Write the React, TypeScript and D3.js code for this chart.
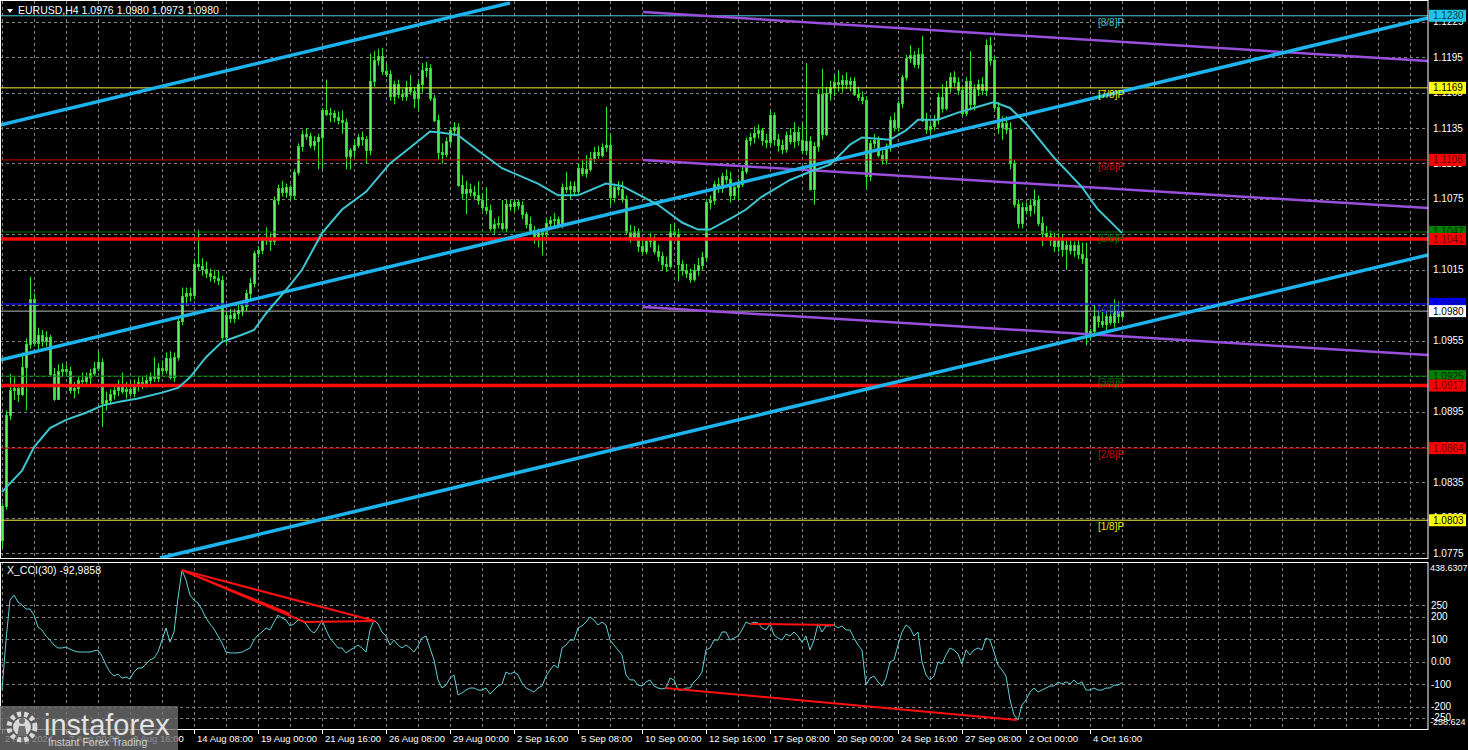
import React from 'react';
import * as d3 from 'd3';

// ---------- DATA (prices stored as 1/10000 above 1.0000, e.g. 980 = 1.0980) ----------
const OPEN_PIPS = [786,815,892,913,915,910,933,952,990,953,960,955,958,927,906,929,931,929,913,915,922,921,924,928,932,937,902,905,910,913,917,912,914,911,918,920,919,922,925,923,932,930,940,924,941,972,993,995,994,1020,1018,1016,1012,1010,1008,1006,958,977,974,978,981,984,995,1004,1029,1032,1040,1042,1039,1074,1084,1081,1085,1078,1098,1120,1130,1128,1121,1124,1127,1150,1147,1148,1144,1142,1140,1111,1116,1121,1127,1126,1116,1175,1193,1196,1183,1181,1162,1172,1164,1162,1170,1166,1160,1172,1184,1186,1160,1142,1115,1113,1124,1133,1136,1087,1080,1083,1081,1078,1074,1068,1066,1050,1054,1055,1050,1071,1069,1072,1070,1062,1054,1049,1044,1048,1045,1055,1057,1058,1053,1085,1083,1086,1082,1101,1097,1100,1110,1115,1112,1119,1121,1077,1085,1083,1075,1047,1043,1048,1035,1031,1039,1041,1031,1027,1020,1018,1048,1045,1020,1015,1012,1007,1015,1019,1026,1072,1074,1088,1084,1094,1092,1078,1085,1088,1099,1125,1127,1131,1133,1125,1123,1146,1126,1121,1117,1129,1124,1132,1125,1116,1124,1083,1120,1164,1130,1165,1170,1174,1172,1176,1172,1175,1164,1161,1159,1094,1122,1125,1112,1108,1119,1142,1136,1156,1178,1194,1197,1189,1198,1142,1134,1137,1143,1161,1152,1170,1178,1174,1167,1148,1175,1155,1168,1172,1167,1205,1193,1153,1136,1139,1134,1105,1071,1055,1068,1066,1070,1074,1055,1046,1044,1040,1035,1041,1033,1036,1032,1036,1028,1025,961,963,976,972,969,976,971,980,976];
const HIGH_PIPS = [818,896,927,924,918,945,957,1009,995,966,964,963,960,932,935,936,935,933,920,925,928,928,931,937,946,940,912,914,916,922,928,920,920,922,924,925,926,928,941,936,938,945,946,945,975,1000,1000,1000,1024,1049,1025,1022,1016,1015,1014,1010,980,982,982,986,988,998,1008,1031,1035,1043,1051,1046,1077,1087,1090,1088,1087,1100,1122,1133,1135,1131,1128,1130,1152,1176,1152,1150,1149,1150,1143,1118,1125,1130,1132,1128,1198,1200,1202,1203,1190,1184,1175,1176,1168,1175,1180,1170,1175,1190,1191,1189,1163,1146,1122,1127,1136,1140,1139,1095,1090,1088,1086,1090,1080,1085,1070,1058,1060,1074,1075,1074,1075,1074,1073,1064,1060,1052,1050,1050,1058,1060,1063,1060,1088,1098,1090,1090,1105,1108,1112,1115,1119,1120,1122,1153,1130,1088,1090,1090,1078,1053,1052,1050,1042,1042,1046,1044,1036,1030,1026,1054,1055,1050,1023,1020,1016,1020,1025,1030,1075,1078,1090,1093,1097,1100,1098,1088,1092,1102,1127,1131,1136,1138,1135,1130,1150,1148,1130,1125,1132,1135,1140,1136,1139,1190,1128,1123,1168,1185,1170,1175,1180,1184,1180,1182,1178,1178,1170,1166,1162,1125,1130,1128,1116,1122,1145,1148,1158,1180,1197,1205,1200,1203,1213,1148,1140,1146,1165,1172,1175,1182,1183,1178,1170,1178,1200,1172,1176,1178,1210,1212,1196,1157,1145,1145,1140,1108,1075,1072,1072,1075,1083,1078,1060,1052,1048,1046,1046,1045,1042,1040,1039,1040,1038,1038,965,985,980,982,980,985,990,988,980];
const LOW_PIPS = [780,812,888,905,903,908,896,948,950,948,950,950,925,904,905,925,926,910,906,910,916,917,918,925,929,882,896,901,905,908,910,906,908,907,912,914,915,918,920,920,926,927,922,920,938,968,985,988,990,1015,1010,1008,1005,1004,1002,955,951,970,970,973,976,980,990,1000,1025,1028,1036,1031,1036,1070,1077,1076,1074,1075,1095,1115,1125,1118,1116,1100,1100,1145,1140,1140,1138,1130,1100,1100,1110,1118,1120,1105,1112,1170,1188,1180,1178,1158,1155,1160,1158,1158,1163,1152,1150,1165,1178,1158,1140,1108,1105,1110,1120,1128,1085,1075,1062,1077,1075,1070,1065,1062,1048,1045,1050,1048,1047,1065,1064,1066,1058,1050,1045,1037,1034,1027,1040,1050,1052,1050,1050,1080,1075,1078,1078,1094,1093,1098,1106,1109,1110,1115,1070,1072,1078,1072,1045,1038,1040,1030,1028,1028,1034,1028,1022,1015,1013,1016,1040,1005,1010,1008,1004,1005,1010,1015,1022,1066,1070,1080,1080,1088,1072,1074,1074,1085,1096,1120,1122,1126,1120,1118,1120,1120,1115,1113,1114,1121,1118,1120,1113,1112,1082,1070,1115,1125,1128,1158,1162,1166,1165,1168,1166,1162,1158,1155,1083,1090,1118,1110,1104,1104,1115,1132,1132,1152,1175,1190,1186,1185,1140,1130,1130,1133,1138,1148,1150,1165,1170,1163,1145,1145,1150,1150,1162,1163,1162,1188,1150,1130,1125,1130,1100,1068,1050,1050,1062,1060,1062,1052,1035,1040,1035,1030,1030,1026,1015,1028,1026,1024,1020,951,955,958,966,966,963,968,966,970,973];
const CLOSE_PIPS = [815,892,913,915,910,933,952,990,953,960,955,958,927,906,929,931,929,913,915,922,921,924,928,932,937,902,905,910,913,917,912,914,911,918,920,919,922,925,923,932,930,940,924,941,972,993,995,994,1020,1018,1016,1012,1010,1008,1006,958,977,974,978,981,984,995,1004,1029,1032,1040,1042,1039,1074,1084,1081,1085,1078,1098,1120,1130,1128,1121,1124,1127,1150,1147,1148,1144,1142,1140,1111,1116,1121,1127,1126,1116,1175,1193,1196,1183,1181,1162,1172,1164,1162,1170,1166,1160,1172,1184,1186,1160,1142,1115,1113,1124,1133,1136,1087,1080,1083,1081,1078,1074,1068,1066,1050,1054,1055,1050,1071,1069,1072,1070,1062,1054,1049,1044,1048,1045,1055,1057,1058,1053,1085,1083,1086,1082,1101,1097,1100,1110,1115,1112,1119,1121,1077,1085,1083,1075,1047,1043,1048,1035,1031,1039,1041,1031,1027,1020,1018,1048,1045,1020,1015,1012,1007,1015,1019,1026,1072,1074,1088,1084,1094,1092,1078,1085,1088,1099,1125,1127,1131,1133,1125,1123,1146,1126,1121,1117,1129,1124,1132,1125,1116,1124,1083,1120,1164,1130,1165,1170,1174,1172,1176,1172,1175,1164,1161,1159,1094,1122,1125,1112,1108,1119,1142,1136,1156,1178,1194,1197,1189,1198,1142,1134,1137,1143,1161,1152,1170,1178,1174,1167,1148,1175,1155,1168,1172,1167,1205,1193,1153,1136,1139,1134,1105,1071,1055,1068,1066,1070,1074,1055,1046,1044,1040,1035,1041,1033,1036,1032,1036,1028,1025,961,963,976,972,969,976,971,980,976,980];

// moving average, read at sampled bars
const MA_BARS = [0,5,8,12,16,21,25,29,34,40,44,47,51,55,60,63,66,70,72,75,80,85,91,97,103,107,110,114,119,125,134,139,144,151,155,164,170,174,177,183,186,190,197,202,207,210,212,215,222,226,229,234,239,244,248,252,256,263,270,274,280];
const MA_PIPS = [827,845,865,881,888,894,900,903,906,911,915,924,941,954,960,964,978,994,1002,1015,1046,1066,1081,1105,1121,1132,1131,1129,1116,1101,1088,1078,1078,1088,1086,1070,1055,1049,1049,1060,1066,1077,1091,1098,1104,1114,1121,1127,1125,1133,1142,1142,1148,1153,1157,1152,1139,1110,1085,1066,1046];

// CCI(30) per bar
const CCI_VALUES = [-126,96,274,296,265,252,234,234,207,154,141,114,96,74,61,61,65,56,48,43,43,43,43,48,52,25,-15,-46,-64,-55,-73,-68,-77,-46,-28,-28,-10,8,16,43,96,150,87,132,283,407,363,296,274,261,230,194,168,145,114,83,43,39,39,39,43,52,61,96,119,132,150,141,176,207,194,185,159,168,185,181,168,141,127,150,185,141,105,83,61,61,39,52,61,74,61,43,141,185,168,132,114,74,96,74,61,74,61,43,70,105,114,61,8,-81,-117,-104,-73,-59,-148,-139,-126,-117,-117,-126,-126,-117,-144,-126,-108,-99,-46,-55,-46,-59,-95,-117,-126,-135,-117,-108,-64,-37,-15,-28,61,74,96,96,150,159,176,199,185,163,176,163,96,74,52,30,-59,-81,-81,-104,-108,-90,-81,-108,-117,-121,-117,-73,-81,-126,-126,-117,-117,-90,-73,-46,52,61,96,96,132,132,96,105,114,141,176,168,176,172,150,141,168,119,105,96,123,114,132,114,87,114,52,96,168,132,159,159,163,150,159,141,141,105,74,52,-104,-73,-64,-90,-108,-73,-1,8,74,132,163,150,114,132,-1,-59,-81,-64,-1,-10,30,61,52,34,-10,52,30,52,61,52,105,96,43,-15,-37,-64,-170,-237,-258.624,-192,-170,-135,-117,-135,-126,-117,-108,-108,-90,-99,-90,-99,-81,-99,-90,-126,-126,-117,-126,-126,-117,-117,-104,-104,-92.9858];

// axis ticks
const PRICE_GRID = [1.1225,1.1195,1.1165,1.1135,1.1105,1.1075,1.1045,1.1015,1.0985,1.0955,1.0925,1.0895,1.0865,1.0835,1.0805,1.0775];
const CCI_GRID = [250,200,100,0,-100,-200,-250];
const CCI_MAX = 438.6307;
const CCI_MIN = -258.624;
const TIME_TICK_BARS = [0,16,32,48,64,80,96,112,128,144,160,176,192,208,224,240,256,272];
const TIME_TICK_LABELS = ['2 Aug 2024','7 Aug 00:00','9 Aug 16:00','14 Aug 08:00','19 Aug 00:00','21 Aug 16:00','26 Aug 08:00','29 Aug 00:00','2 Sep 16:00','5 Sep 08:00','10 Sep 00:00','12 Sep 16:00','17 Sep 08:00','20 Sep 00:00','24 Sep 16:00','27 Sep 08:00','2 Oct 00:00','4 Oct 16:00'];

// levels
const MURREY_PRICES = [1.1230,1.1169,1.1108,1.1047,1.0986,1.0925,1.0864,1.0803];
const MURREY_NAMES = ['[8/8]P','[7/8]P','[6/8]P','[5/8]P','[4/8]P','[3/8]P','[2/8]P','[1/8]P'];
const KEY_LEVELS = [1.1041, 1.0917];
const LAST_PRICE = 1.0980;

// trend lines: [bar1, price1, bar2, price2]
const CHANNEL_LINES = [
  [-0.5, 1.11376, 127, 1.12408],
  [-0.5, 1.09386, 356.5, 1.12281],
  [39.5, 1.0771, 356.5, 1.10275],
];
const PURPLE_LINES = [
  [160.25, 1.12332, 356.5, 1.11917],
  [160.25, 1.11079, 356.5, 1.10673],
  [160.25, 1.09835, 356.5, 1.09428],
];
// CCI divergence lines: [bar1, cci1, bar2, cci2]
const CCI_LINES = [
  [45, 407, 93.25, 181],
  [45, 407, 75.75, 176],
  [45, 407, 72, 212],
  [75.75, 176, 93.25, 181],
  [187, 168, 208, 163],
  [165.75, -117, 253.75, -258.6],
];

const HEADER = 'EURUSD,H4  1.0976 1.0980 1.0973 1.0980';
const CCI_TITLE = 'X_CCI(30) -92,9858';

// ---------- STYLE ----------
const FONT = "'Liberation Sans', Arial, sans-serif";
const W = 1468, H = 750;
const PLOT_R = 1428;
const MAIN_TOP = 1, MAIN_BOT = 559;
const CCI_TOP = 562, CCI_BOT = 729;

const MURREY_STYLE = [
  { line: '#4fd0e4', bg: '#1ec6e8', text: '#063a48', lbl: '#3cc0d0', w: 1 },
  { line: '#f0f040', bg: '#ffff00', text: '#000000', lbl: '#e8e800', w: 1 },
  { line: '#d00000', bg: '#ff0000', text: '#6a0000', lbl: '#d00000', w: 1 },
  { line: '#007800', bg: '#008000', text: '#002800', lbl: '#007000', w: 1 },
  { line: '#1010e0', bg: '#0000ff', text: '#00007a', lbl: '#1414d0', w: 1.5 },
  { line: '#007800', bg: '#008000', text: '#002800', lbl: '#007000', w: 1 },
  { line: '#d00000', bg: '#ff0000', text: '#6a0000', lbl: '#d00000', w: 1 },
  { line: '#f0f040', bg: '#ffff00', text: '#000000', lbl: '#e8e800', w: 1 },
];

export default function App() {
  const x = d3.scaleLinear().domain([0, 100]).range([2, 402]);
  const y = d3.scaleLinear().domain([1.0775, 1.1225]).range([553.3, 21.7]);
  const yc = d3.scaleLinear().domain([-250, 250]).range([717.95, 605.45]);
  const pr = (v: number) => 1 + v / 10000;

  const n = CLOSE_PIPS.length;
  const candles = d3.range(n).map((i) => {
    const o = pr(OPEN_PIPS[i]), c = pr(CLOSE_PIPS[i]);
    const h = Math.max(pr(HIGH_PIPS[i]), o, c), l = Math.min(pr(LOW_PIPS[i]), o, c);
    const cx = Math.round(x(i));
    const yTop = Math.round(y(Math.max(o, c)));
    const yBot = Math.round(y(Math.min(o, c)));
    return (
      <g key={i}>
        <line x1={cx + 0.5} x2={cx + 0.5} y1={y(h)} y2={y(l)} stroke="#2ee62e" strokeWidth={1} />
        <rect x={cx - 0.5} y={yTop + 0.5} width={2} height={Math.max(yBot - yTop, 1)}
          fill={c >= o ? '#62f562' : '#48ee48'} stroke="#22dc22" strokeWidth={1} />
      </g>
    );
  });

  const maLine = d3.line<number>().x((_, k) => x(MA_BARS[k])).y((v) => y(pr(v)))(MA_PIPS) || '';
  const cciLine = d3.line<number>().x((_, k) => x(k)).y((v) => yc(v))(CCI_VALUES) || '';

  const gridXs: number[] = [];
  for (let b = 0; x(b) <= PLOT_R; b += 8) gridXs.push(Math.round(x(b)) + 0.5);

  const txt = { fontFamily: FONT, fontSize: 10 } as const;

  return (
    <div style={{ position: 'fixed', left: 0, top: 0, width: W, height: H, background: '#000' }}>
      <svg width={W} height={H} style={{ display: 'block' }}>
        <defs>
          <clipPath id="mainClip"><rect x={0} y={MAIN_TOP} width={PLOT_R} height={MAIN_BOT - MAIN_TOP} /></clipPath>
          <clipPath id="cciClip"><rect x={0} y={CCI_TOP} width={PLOT_R} height={CCI_BOT - CCI_TOP} /></clipPath>
        </defs>
        <rect x={0} y={0} width={W} height={H} fill="#000" />

        {/* grid */}
        <g stroke="#9a9a9a" strokeWidth={1} strokeDasharray="3,3" opacity={0.85}>
          {gridXs.map((gx, k) => (
            <line key={'gv' + k} x1={gx} x2={gx} y1={MAIN_TOP} y2={MAIN_BOT} />
          ))}
          {PRICE_GRID.map((p, k) => (
            <line key={'gh' + k} x1={0} x2={PLOT_R} y1={Math.round(y(p)) + 0.5} y2={Math.round(y(p)) + 0.5} />
          ))}
          {gridXs.map((gx, k) => (
            <line key={'cv' + k} x1={gx} x2={gx} y1={CCI_TOP} y2={CCI_BOT} />
          ))}
          {CCI_GRID.map((v, k) => (
            <line key={'ch' + k} x1={0} x2={PLOT_R} y1={Math.round(yc(v)) + 0.5} y2={Math.round(yc(v)) + 0.5} />
          ))}
        </g>

        {/* candles */}
        <g clipPath="url(#mainClip)">{candles}</g>

        {/* levels and objects */}
        <g clipPath="url(#mainClip)">
          {MURREY_PRICES.map((p, k) => (
            <line key={'m' + k} x1={0} x2={PLOT_R} y1={y(p)} y2={y(p)} stroke={MURREY_STYLE[k].line} strokeWidth={MURREY_STYLE[k].w} />
          ))}
          <line x1={0} x2={PLOT_R} y1={y(LAST_PRICE)} y2={y(LAST_PRICE)} stroke="#b8b8b8" strokeWidth={1} />
          {KEY_LEVELS.map((p, k) => (
            <line key={'k' + k} x1={0} x2={PLOT_R} y1={y(p)} y2={y(p)} stroke="#ff0a0a" strokeWidth={3.5} />
          ))}
          {PURPLE_LINES.map((l, k) => (
            <line key={'p' + k} x1={x(l[0])} y1={y(l[1])} x2={x(l[2])} y2={y(l[3])} stroke="#9a4fdc" strokeWidth={2.5} />
          ))}
          {CHANNEL_LINES.map((l, k) => (
            <line key={'c' + k} x1={x(l[0])} y1={y(l[1])} x2={x(l[2])} y2={y(l[3])} stroke="#1db4ee" strokeWidth={3.5} />
          ))}
          <path d={maLine} fill="none" stroke="#3cc6d2" strokeWidth={2} />
          {MURREY_NAMES.map((name, k) => (
            <text key={'mn' + k} x={x(274)} y={y(MURREY_PRICES[k]) + 10} fill={MURREY_STYLE[k].lbl} {...txt}>{name}</text>
          ))}
        </g>

        {/* CCI */}
        <g clipPath="url(#cciClip)">
          <path d={cciLine} fill="none" stroke="#5fd0d8" strokeWidth={1} />
          {CCI_LINES.map((l, k) => (
            <line key={'cl' + k} x1={x(l[0])} y1={yc(l[1])} x2={x(l[2])} y2={yc(l[3])} stroke="#ff1010" strokeWidth={2} />
          ))}
        </g>

        {/* frames */}
        <rect x={0.5} y={MAIN_TOP - 0.5} width={PLOT_R - 0.5} height={MAIN_BOT - MAIN_TOP} fill="none" stroke="#ffffff" strokeWidth={1} />
        <rect x={0.5} y={CCI_TOP + 0.5} width={PLOT_R - 0.5} height={CCI_BOT - CCI_TOP} fill="none" stroke="#ffffff" strokeWidth={1} />

        {/* header texts */}
        <path d="M7,9 L13,9 L10,13 Z" fill="#ffffff" />
        <text x={18} y={14} fill="#ffffff" fontFamily={FONT} fontSize={10.5}>{HEADER}</text>
        <text x={7} y={574} fill="#ffffff" fontFamily={FONT} fontSize={10.5}>{CCI_TITLE}</text>

        {/* price axis */}
        {PRICE_GRID.map((p, k) => (
          <text key={'pl' + k} x={1433} y={y(p) + 3.5} fill="#ffffff" {...txt}>{p.toFixed(4)}</text>
        ))}
        {MURREY_PRICES.map((p, k) => (
          <g key={'mb' + k}>
            <rect x={1429} y={y(p) - 6} width={37} height={12} fill={MURREY_STYLE[k].bg} />
            <text x={1433} y={y(p) + 3.5} fill={MURREY_STYLE[k].text} {...txt}>{p.toFixed(4)}</text>
          </g>
        ))}
        {KEY_LEVELS.map((p, k) => (
          <g key={'kb' + k}>
            <rect x={1429} y={y(p) - 6} width={37} height={12} fill="#ff0000" />
            <text x={1433} y={y(p) + 3.5} fill="#6a0000" {...txt}>{p.toFixed(4)}</text>
          </g>
        ))}
        <rect x={1429} y={y(LAST_PRICE) - 6} width={37} height={12} fill="#ffffff" />
        <text x={1433} y={y(LAST_PRICE) + 3.5} fill="#000000" {...txt}>{LAST_PRICE.toFixed(4)}</text>

        {/* CCI axis */}
        <text x={1430} y={yc(CCI_MAX) + 8} fill="#ffffff" fontFamily={FONT} fontSize={9}>{CCI_MAX.toFixed(4)}</text>
        {CCI_GRID.map((v, k) => (
          <text key={'cg' + k} x={1431} y={yc(v) + 3.5} fill="#ffffff" {...txt}>{v === 0 ? '0.00' : String(v)}</text>
        ))}
        <text x={1430} y={yc(CCI_MIN) + 5} fill="#ffffff" fontFamily={FONT} fontSize={9}>{CCI_MIN.toFixed(3)}</text>

        {/* time axis */}
        {TIME_TICK_BARS.map((b, k) => (
          <g key={'t' + k}>
            <line x1={Math.round(x(b)) + 0.5} x2={Math.round(x(b)) + 0.5} y1={CCI_BOT} y2={CCI_BOT + 5} stroke="#ffffff" />
            <text x={x(b) + 3} y={742} fill="#ffffff" fontFamily={FONT} fontSize={9.5}>{TIME_TICK_LABELS[k]}</text>
          </g>
        ))}

        {/* watermark */}
        <g>
          <rect x={0} y={706} width={178} height={44} fill="#6e6e6e" opacity={0.8} />
          <circle cx={22} cy={727} r={13} fill="none" stroke="#d8d8d8" strokeWidth={5} strokeDasharray="4,3" />
          <circle cx={22} cy={727} r={9} fill="#d8d8d8" />
          <circle cx={22} cy={721} r={3} fill="#6e6e6e" />
          <path d="M17,736 L19,726 L25,726 L27,736 Z" fill="#6e6e6e" />
          <text x={44} y={735} fill="#e2e2e2" fontFamily={FONT} fontSize={29}>instaforex</text>
          <text x={48} y={746} fill="#d0d0d0" fontFamily={FONT} fontSize={10.5}>Instant Forex Trading</text>
        </g>
      </svg>
    </div>
  );
}
